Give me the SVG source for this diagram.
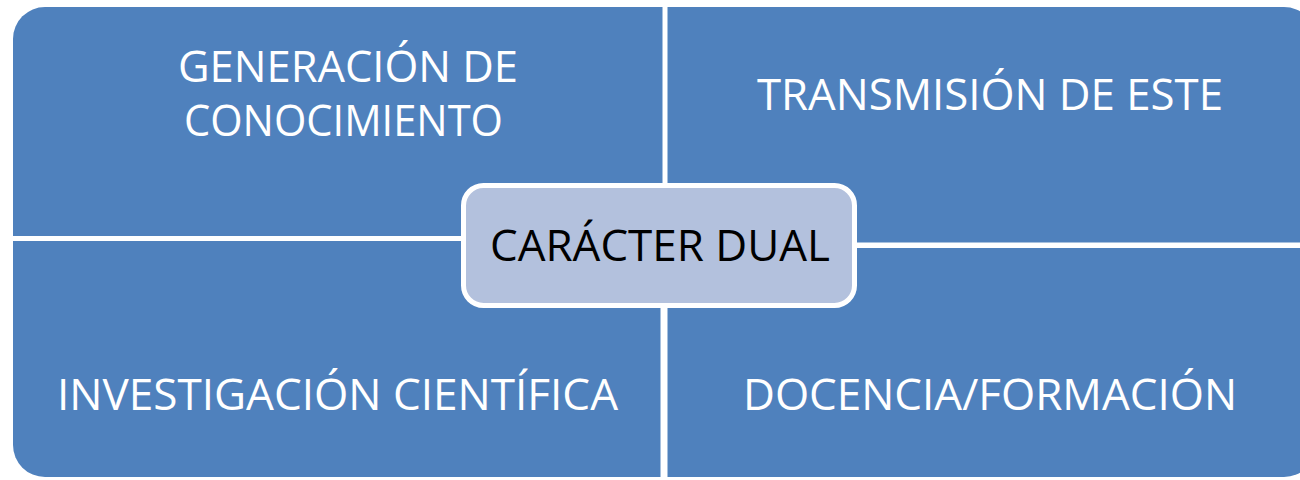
<svg xmlns="http://www.w3.org/2000/svg" width="1300" height="480" viewBox="0 0 1300 480">
  <style>
    .quad { fill: #4F81BD; }
    .qtext { font-family: "Open Sans", "Liberation Sans", sans-serif; font-size: 43px; fill: #FFFFFF; text-anchor: middle; }
    .ctext { font-family: "Open Sans", "Liberation Sans", sans-serif; font-size: 43px; fill: #000000; text-anchor: middle; }
    .center { fill: #B3C1DD; stroke: #FFFFFF; stroke-width: 5; }
  </style>
  <rect width="1300" height="480" fill="#FFFFFF"/>
  <g id="generacion">
    <path class="quad" d="M13,236 V39 A32,32 0 0 1 45,7 H662.5 V236 Z"/>
    <text class="qtext" x="348" y="82" textLength="340" lengthAdjust="spacingAndGlyphs">GENERACIÓN DE</text>
    <text class="qtext" x="343.5" y="136" textLength="319" lengthAdjust="spacingAndGlyphs">CONOCIMIENTO</text>
  </g>
  <g id="transmision">
    <path class="quad" d="M667.5,7 H1284 A32,32 0 0 1 1316,39 V242.5 H667.5 Z"/>
    <text class="qtext" x="990" y="110" textLength="466" lengthAdjust="spacingAndGlyphs">TRANSMISIÓN DE ESTE</text>
  </g>
  <g id="investigacion">
    <path class="quad" d="M13,241 H660.5 V477 H45 A32,32 0 0 1 13,445 Z"/>
    <text class="qtext" x="337.5" y="410" textLength="561" lengthAdjust="spacingAndGlyphs">INVESTIGACIÓN CIENTÍFICA</text>
  </g>
  <g id="docencia">
    <path class="quad" d="M667.5,248 H1316 V445 A32,32 0 0 1 1284,477 H667.5 Z"/>
    <text class="qtext" x="990" y="410" textLength="494" lengthAdjust="spacingAndGlyphs">DOCENCIA/FORMACIÓN</text>
  </g>
  <g id="caracter-dual">
    <rect class="center" x="463.5" y="185.5" width="391" height="120" rx="20" ry="20"/>
    <text class="ctext" x="660" y="261" textLength="340" lengthAdjust="spacingAndGlyphs">CARÁCTER DUAL</text>
  </g>
</svg>
